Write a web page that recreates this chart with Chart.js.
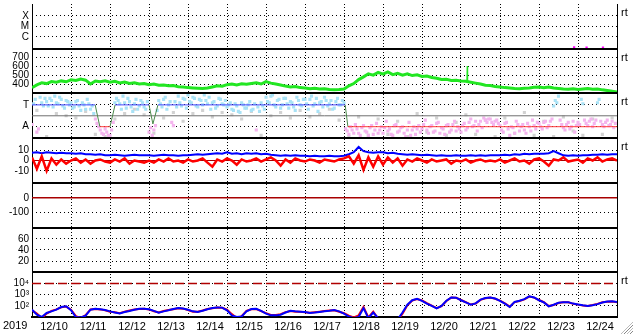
<!DOCTYPE html>
<html>
<head>
<meta charset="utf-8">
<script src="https://cdn.jsdelivr.net/npm/chart.js@4.4.1/dist/chart.umd.min.js"></script>
<style>
  html, body { margin: 0; padding: 0; background: #fff; }
  canvas { display: block; }
</style>
</head>
<body>
<canvas id="myChart" width="633" height="334"></canvas>
<script>
// time axis: days since 12/10 00:00
const dayLabels = ['12/10','12/11','12/12','12/13','12/14','12/15','12/16','12/17','12/18','12/19','12/20','12/21','12/22','12/23','12/24'];
const yearLabel = '2019';
const step3h = 0.125;
const step2h = 1 / 12;
const step6h = 0.25;

// panel 1: x-ray flare class
const flareLevels = [1e-4, 1e-5, 1e-6];
const flareLabels = ['X', 'M', 'C'];
const xrayTimes = [13.9, 14.22, 14.64];
const xrayFlux = [9.6e-8, 9.0e-8, 9.0e-8];

// panel 2: solar wind speed (3 hourly)
const speedTicks = [700, 600, 500, 400];
const speed = [
  365,395,420,410,432,425,440,430,
  452,445,460,448,405,438,430,441,
  425,435,418,428,412,420,405,410,
  398,404,392,395,385,388,375,372,
  365,362,358,355,360,372,385,380,
  398,405,395,408,402,412,418,405,
  432,415,405,395,382,372,378,365,
  360,352,357,350,352,345,340,343,
  350,385,410,455,485,520,505,535,
  515,540,510,525,505,520,500,508,
  490,495,478,470,455,458,445,448,
  440,435,425,415,405,392,388,378,
  372,365,360,355,352,358,362,368,
  372,365,372,360,355,350,348,352,
  345,350,355,348,350,340,332,325,
  315
];
const speedSpikeTimes = [11.15, 11.16, 11.17];
const speedSpikeValues = [434, 607, 432];

// panel 3: IMF sector (T / A)
const sectorTicks = [1, -1];
const sectorLabels = ['T', 'A'];
const sectorTimes = [0, 1.62, 1.74, 2.0, 2.13, 3.0, 3.1, 3.23, 8.03, 8.1, 15];
const sectorValues = [1, 1, -1, -1, 1, 1, -0.75, 1, 1, -1, -1];
// phi samples every 2 h (phi) and the same 2 h grid shifted by 1 h (phiB)
const phi = [
  -0.8,1.5,-1.2,1.2,1.6,0.9,1.4,1.8,1.1,1.5,0.7,1.3,
  1.2,0.8,1.4,0.5,1.0,1.5,0.6,0.2,-0.7,-1.3,-1.7,-1.5,
  -1.8,-0.6,1.6,1.1,1.8,0.7,1.3,0.4,1.5,0.9,1.2,0.6,
  -1.5,-1.8,-0.9,1.4,0.8,1.7,1.0,-0.6,1.3,1.8,0.9,1.5,
  1.9,1.2,1.6,0.8,1.4,1.9,1.1,0.6,1.3,0.9,1.5,1.0,
  0.8,1.2,0.5,0.9,0.3,1.0,0.7,1.3,0.6,-1.3,0.4,0.9,
  1.7,1.2,1.9,0.8,1.5,1.0,1.6,0.7,1.2,0.5,1.4,0.9,
  1.5,0.6,1.8,1.1,0.4,1.3,1.7,0.9,1.4,0.7,1.6,1.0,
  1.2,-1.4,-1.0,-1.6,-1.2,-1.8,-0.9,-1.5,-1.1,-1.7,-0.7,-1.3,
  -1.6,-0.5,-1.2,-1.8,-0.8,-1.4,-1.0,-1.9,-0.6,-1.3,-1.7,-0.9,
  -1.2,-0.4,-1.6,-0.9,-1.4,-0.6,-1.1,-1.7,-0.8,-1.3,-0.5,-1.0,
  -1.5,-0.7,-1.1,-0.3,-0.9,-1.4,-0.5,-0.2,-0.6,-0.3,-0.8,-0.4,
  -0.9,-1.5,-0.6,-1.8,-1.1,-0.5,-1.4,-0.8,-1.6,-1.0,-0.4,-1.2,
  -0.7,-1.2,-0.5,-0.9,-0.3,1.4,1.8,-0.8,-1.3,-0.6,-1.0,-1.5,
  -0.6,1.5,-0.4,-0.9,-0.3,-0.7,1.2,-0.5,-1.0,-0.4,-0.8,-1.1
];
const phiB = [
  1.1,-1.5,1.7,0.9,1.3,1.6,0.8,1.2,1.7,0.9,1.4,1.0,
  0.7,1.3,0.9,1.2,0.6,1.1,0.9,-0.3,-1.0,-1.6,-1.2,-1.8,
  -1.3,1.2,1.4,0.6,1.2,1.6,0.8,1.1,0.6,1.4,0.8,1.3,
  -1.1,-1.3,0.5,1.1,1.5,0.6,1.3,-0.9,0.8,1.2,1.6,0.7,
  1.3,1.7,0.9,1.5,1.0,1.4,1.7,1.2,0.7,1.6,1.1,1.4,
  1.0,0.6,1.1,0.4,1.2,0.7,1.0,0.5,1.1,0.8,1.2,0.6,
  1.3,1.8,1.0,1.4,0.7,1.6,1.1,1.3,0.8,1.7,1.0,1.5,
  1.1,1.5,0.9,1.6,1.2,0.8,1.4,1.1,0.6,1.3,1.0,1.4,
  -1.2,-1.7,-1.3,-0.8,-1.6,-1.1,-1.4,-1.8,-0.9,-1.3,-1.6,-1.0,
  -1.1,-1.4,-1.7,-0.9,-1.5,-1.1,-1.6,-1.3,-1.8,-1.0,-1.2,-1.5,
  -0.8,-1.3,-1.0,-1.5,-0.7,-1.6,-1.2,-0.9,-1.5,-0.8,-1.4,-1.2,
  -0.9,-1.3,-0.6,-1.0,-0.5,-0.8,-1.1,-0.4,-0.3,-0.6,-0.5,-0.7,
  -1.3,-0.7,-1.2,-1.0,-1.6,-0.8,-1.0,-1.3,-0.7,-1.4,-0.9,-0.6,
  -1.0,-0.6,-1.1,-0.5,0.9,1.2,-0.4,-1.1,-0.8,-1.2,-0.5,-0.9,
  -0.8,1.1,-0.7,-0.5,-1.0,-0.4,1.5,-0.8,-0.6,-0.9,-0.5,-0.7
];
const phiGray = [
  0.5,-1.9,0.2,0.0, -0.2,0.4,-1.7,-1.9, -0.3,0.2,0.6,0.1,
  -1.6,-0.2,0.3,-0.5, 0.2,0.5,-0.1,0.3, 0.1,-0.3,0.4,-1.8,
  0.0,0.3,-0.2,0.5, -0.1,0.2,0.6,-0.4, -1.9,-0.1,-1.8,-0.3,
  -1.7,-0.5,-1.9,0.2, -1.5,-0.2,-1.8,-0.6, 0.1,-1.7,-0.4,-1.9,
  -0.2,-1.6,0.3,-1.8, -0.5,-1.9,-0.1,-1.4, -1.8,-0.3,-1.7,-0.2
];

// panel 4: IMF Bt (blue) and Bz (red), nT, 3 hourly
const bTicks = [10, 0, -10];
const bt = [
  7.5,8,7,8,7.5,7,7.5,7,
  7,6.5,7,6,6,5.5,6,5,
  5,5.5,5,4.5,5,5.5,5,5,
  5,4.5,5,5.5,5,5,4.5,5,
  5,5.5,6,5.5,6,6.5,7,6.5,
  8,6.5,7,6,7,6.5,7,6,
  6.5,5.5,5,4.5,5,4.5,5,4.5,
  4.5,4,4.5,4,4,4.5,4,4,
  4.5,6,8,13,9,8,7.5,8,
  8,7,7.5,6.5,6,5.5,6,5.5,
  5,5.5,5,4.5,5,4.5,4.5,5,
  4.5,4.5,5,4.5,5,4.5,5,5,
  5,5.5,5,6,5.5,6.5,6,6.5,
  6.5,6.5,7,9,7,5,4.5,5,
  4.5,5,5,5.5,5.5,6,5.5,6,
  6
];
const bz = [
  3,-8,4,-10,2,-4,1,-3,
  0,2,-2,1,-3,0,1,-1,
  -2,1,-1,2,-3,0,-1,-2,
  0,-2,1,-1,2,-1,0,-2,
  1,-1,0,2,-2,-6,1,-1,
  2,0,-4,1,-1,0,2,-1,
  1,3,0,-5,1,-2,2,0,
  -1,1,0,-2,1,0,-1,1,
  2,4,-3,5,-9,3,-6,4,
  -4,3,-2,2,-5,1,-1,2,
  0,-2,1,-1,0,1,-3,0,
  -1,1,-2,0,1,-1,0,-1,
  1,-2,0,2,-1,0,-3,1,
  2,-1,-5,1,0,3,-1,0,
  1,-2,2,0,3,-1,1,2,
  0
];

// panel 5 and 6
const dstTicks = [0, -100];
const dstBaseline = 0;
const panel6Ticks = [60, 40, 20];

// panel 7: electron flux (log), 3 hourly
const fluxTicks = [1e4, 1e3, 1e2];
const fluxLabels = ['10\u2074', '10\u00b3', '10\u00b2'];
const fluxThreshold = 1e4;
const fluxBlue = [
  45,16,10,23,32,45,78,90,40,10,
  9,13,45,55,50,42,32,25,21,28,
  35,45,55,56,50,35,24,32,40,52,
  63,58,45,32,28,36,50,63,72,69,
  40,14,10,11,32,52,55,35,20,14,
  14,16,25,36,32,30,28,23,25,28,
  32,36,42,32,20,11,8,10,63,8,
  25,8,6,5,5,6,25,126,316,427,
  282,158,100,58,100,282,562,537,316,200,
  126,166,355,501,562,447,282,158,79,224,
  282,398,708,562,316,200,89,126,190,214,
  214,158,132,110,95,112,141,200,240,251,
  214
];
const fluxRed = [
  40,20,8,20,35,48,75,85,45,12,
  8,15,48,52,48,40,30,26,22,30,
  38,48,52,54,48,33,26,34,42,50,
  60,56,42,30,30,38,52,60,70,66,
  45,18,8,12,35,50,52,33,22,15,
  15,18,27,34,30,29,26,24,27,30,
  34,38,40,30,22,13,9,14,80,9,
  30,7,5,4,4,5,20,110,300,410,
  300,170,105,62,95,270,540,520,330,210,
  130,160,340,480,540,430,290,165,85,215,
  270,380,680,540,330,210,95,120,180,205,
  205,150,128,108,98,118,150,210,230,245,
  205
];

const days = dayLabels.length;
const series = (values, step, start = 0) => values.map((v, i) => ({x: start + i * step, y: v}));
const pairs = (xs, ys) => xs.map((x, i) => ({x: x, y: ys[i]}));
const flat = v => [{x: 0, y: v}, {x: days, y: v}];

const panelIds = ['xray', 'speed', 'sector', 'imf', 'dst', 'p6', 'flux'];
const rtPanels = ['xray', 'speed', 'sector', 'imf', 'flux'];

function panel(weight, opts, tickValues, labels) {
  return Object.assign({
    position: 'left', stack: 'panels', stackWeight: 1, weight: weight,
    border: {display: true, color: '#000', width: 1, dash: [1, 3]},
    grid: {color: '#000', drawTicks: false, lineWidth: 1},
    ticks: {
      autoSkip: false, padding: 3, color: '#000',
      font: {family: 'Liberation Sans', size: 10},
      callback: v => labels ? labels[tickValues.indexOf(v)] : String(v)
    },
    afterBuildTicks: s => { s.ticks = tickValues.map(v => ({value: v})); },
    afterFit: s => { s.width = 32; s.paddingTop = 0; s.paddingBottom = 0; }
  }, opts);
}

const frame = {
  id: 'frame',
  afterDraw(chart) {
    const {ctx, chartArea: a, scales} = chart;
    ctx.save();
    ctx.strokeStyle = '#000';
    ctx.lineWidth = 2;
    panelIds.forEach(id => {
      const y = Math.round(scales[id].top);
      if (y <= a.top + 1) return;
      ctx.beginPath(); ctx.moveTo(a.left, y); ctx.lineTo(a.right, y); ctx.stroke();
    });
    ctx.lineWidth = 1;
    ctx.beginPath(); ctx.moveTo(Math.round(a.right) + 0.5, a.top); ctx.lineTo(Math.round(a.right) + 0.5, a.bottom); ctx.stroke();
    ctx.fillStyle = '#000';
    ctx.font = '11px "Liberation Sans"';
    ctx.textBaseline = 'top';
    ctx.fillText(yearLabel, 3, a.bottom + 3);
    ctx.textBaseline = 'middle';
    rtPanels.forEach(id => ctx.fillText('rt', a.right + 4, scales[id].top + 9));
    // window resize grip
    const W = chart.width, H = chart.height;
    ctx.lineWidth = 1;
    for (let k = 3; k <= 12; k += 3) {
      ctx.strokeStyle = k % 2 ? '#888' : '#bbb';
      ctx.beginPath(); ctx.moveTo(W - k, H); ctx.lineTo(W, H - k); ctx.stroke();
    }
    ctx.restore();
  }
};

const lineStyle = {pointRadius: 0, borderWidth: 2, tension: 0, fill: false};
const phiColor = c => (c.raw && c.raw.y >= 0) ? '#a8e2f6' : '#f4b4ee';
const phiDots = {showLine: false, pointStyle: 'rect', pointRadius: 2.2, pointBorderWidth: 0, pointBackgroundColor: phiColor, yAxisID: 'sector', order: 8};

new Chart(document.getElementById('myChart'), {
  type: 'line',
  data: {
    datasets: [
      {data: pairs(xrayTimes, xrayFlux), yAxisID: 'xray', showLine: false, pointStyle: 'rect', pointRadius: 1.6, pointBorderWidth: 0, pointBackgroundColor: '#ff00ff', order: 1},
      Object.assign({data: series(speed, step3h), yAxisID: 'speed', borderColor: '#22e622', order: 1}, lineStyle, {borderWidth: 3}),
      Object.assign({data: pairs(speedSpikeTimes, speedSpikeValues), yAxisID: 'speed', borderColor: '#22e622', order: 1}, lineStyle, {borderWidth: 1.2}),
      {data: series(phiGray, step6h, step6h / 2), yAxisID: 'sector', showLine: false, pointStyle: 'rect', pointRadius: 2.2, pointBorderWidth: 0, pointBackgroundColor: '#d2d2d2', order: 9},
      Object.assign({data: series(phi, step2h)}, phiDots),
      Object.assign({data: series(phiB, step2h, step2h / 2)}, phiDots),
      {data: flat(0), yAxisID: 'sector', borderColor: '#707070', borderWidth: 1, pointRadius: 0, order: 3},
      {data: pairs(sectorTimes, sectorValues), yAxisID: 'sector', borderWidth: 1, pointRadius: 0, order: 2,
       segment: {borderColor: s => (s.p0.parsed.y === 1 && s.p1.parsed.y === 1) ? '#4646ff' : (s.p0.parsed.y === -1 && s.p1.parsed.y === -1) ? '#ff3c3c' : '#4a8a4a'}},
      Object.assign({data: series(bz, step3h), yAxisID: 'imf', borderColor: '#ff0000', order: 2}, lineStyle, {borderWidth: 2.5}),
      Object.assign({data: series(bt, step3h), yAxisID: 'imf', borderColor: '#0000ff', order: 3}, lineStyle),
      {data: flat(0), yAxisID: 'imf', borderColor: '#a80000', borderWidth: 1, pointRadius: 0, order: 6},
      {data: flat(dstBaseline), yAxisID: 'dst', borderColor: '#a80000', borderWidth: 1.5, pointRadius: 0, order: 6},
      {data: flat(fluxThreshold), yAxisID: 'flux', borderColor: '#b00000', borderWidth: 1.5, borderDash: [9, 4], pointRadius: 0, order: 6},
      Object.assign({data: series(fluxRed, step3h), yAxisID: 'flux', borderColor: '#ff0000', order: 3}, lineStyle),
      Object.assign({data: series(fluxBlue, step3h), yAxisID: 'flux', borderColor: '#0000ff', order: 2}, lineStyle)
    ]
  },
  options: {
    responsive: false,
    animation: false,
    layout: {padding: {top: 2, right: 16, bottom: 0, left: 0}},
    plugins: {legend: {display: false}, tooltip: {enabled: false}},
    scales: {
      x: {
        type: 'linear', position: 'bottom', min: 0, max: days,
        ticks: {stepSize: 1, autoSkip: false, maxRotation: 0, padding: 3, labelOffset: 22, color: '#000',
                font: {family: 'Liberation Sans', size: 11}, callback: v => dayLabels[v] ?? ''},
        grid: {color: c => (c.tick && (c.tick.value === 0 || c.tick.value === days)) ? 'rgba(0,0,0,0)' : '#000', drawTicks: false},
        border: {display: true, color: '#000', width: 2, dash: [1, 2]},
        afterFit: s => { s.height = 17; s.paddingLeft = 0; s.paddingRight = 0; }
      },
      xray: panel(7, {type: 'logarithmic', min: 7.1e-8, max: 1.41e-3}, flareLevels, flareLabels),
      speed: panel(6, {type: 'linear', min: 300, max: 800}, speedTicks),
      sector: panel(5, {type: 'linear', min: -2.05, max: 2.05}, sectorTicks, sectorLabels),
      imf: panel(4, {type: 'linear', min: -21.5, max: 21.5}, bTicks),
      dst: panel(3, {type: 'linear', min: -200, max: 100}, dstTicks),
      p6: panel(2, {type: 'linear', min: 0, max: 80}, panel6Ticks),
      flux: panel(1, {type: 'logarithmic', min: 10, max: 1e5}, fluxTicks, fluxLabels)
    }
  },
  plugins: [frame]
});
</script>
</body>
</html>
